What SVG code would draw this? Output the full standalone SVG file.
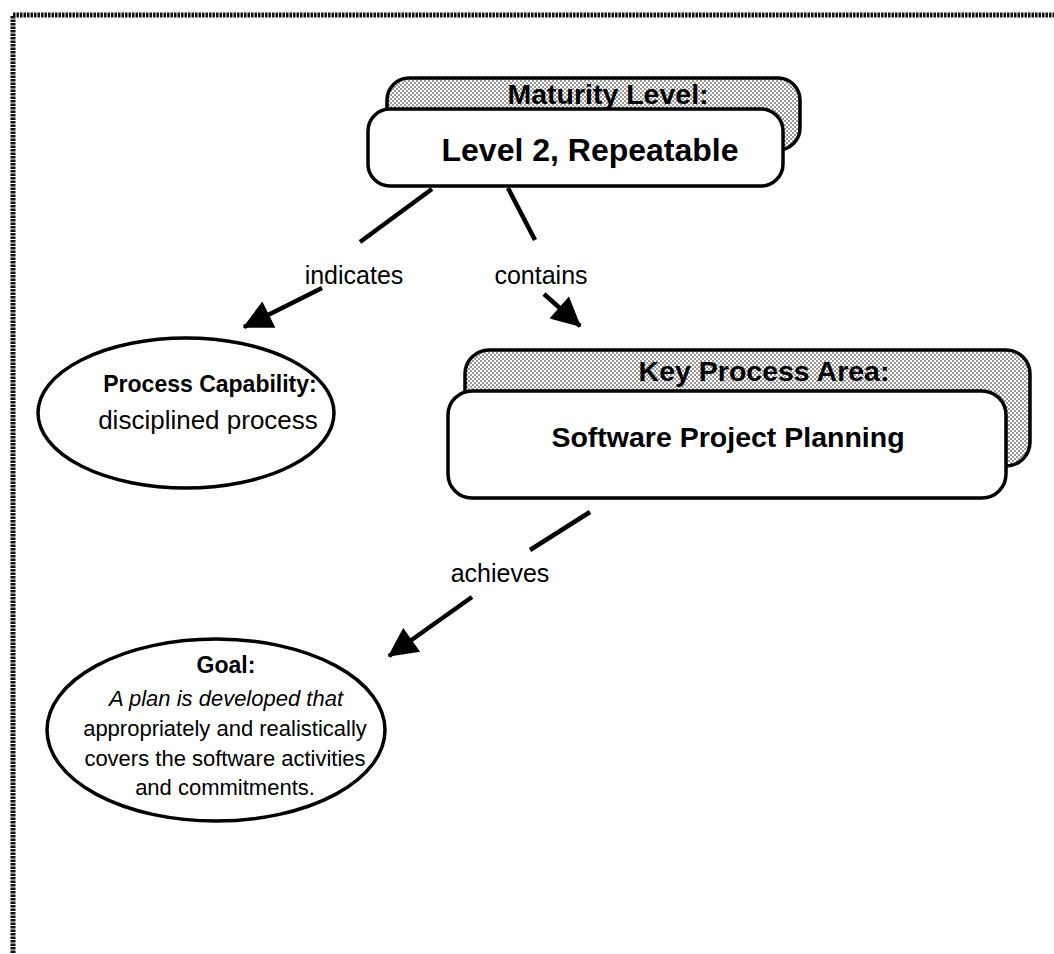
<svg xmlns="http://www.w3.org/2000/svg" width="1054" height="954" viewBox="0 0 1054 954">
<style>
.box{fill:#fff;stroke:#000;stroke-width:3.5}
.shade{fill:url(#dots);stroke:#000;stroke-width:3.5}
.ell{fill:#fff;stroke:#000;stroke-width:3.5}
.hd{font-family:"Liberation Sans",Arial,sans-serif;font-weight:bold;font-size:28.5px;text-anchor:middle;fill:#000}
.big{font-size:32px}
.sub{font-family:"Liberation Sans",Arial,sans-serif;font-weight:bold;font-size:23px;text-anchor:middle;fill:#000}
.txt{font-family:"Liberation Sans",Arial,sans-serif;font-size:22px;text-anchor:middle;fill:#000}
.lbl{font-family:"Liberation Sans",Arial,sans-serif;font-size:25px;text-anchor:middle;fill:#000}
.body{font-size:26px}
.ln{stroke:#000;stroke-width:4.5;fill:none}
</style>
<defs>
<pattern id="dots" patternUnits="userSpaceOnUse" width="4" height="4">
<rect width="4" height="4" fill="#fff"/>
<rect x="0" y="0" width="2" height="2" fill="#999"/>
<rect x="2" y="2" width="2" height="2" fill="#999"/>
</pattern>
<marker id="ah" viewBox="0 0 10 10" refX="9.5" refY="5" markerWidth="8" markerHeight="6.5" markerUnits="strokeWidth" orient="auto">
<path d="M0,0 L10,5 L0,10 z" fill="#000"/>
</marker>
</defs>
<rect x="13" y="15" width="1100" height="1000" fill="#fff" stroke="#111" stroke-width="5" stroke-dasharray="2.5 1"/>

<g id="connectors">
<line class="ln" x1="432" y1="189" x2="360" y2="242"/>
<line class="ln" x1="322" y1="288" x2="244" y2="327" marker-end="url(#ah)"/>
<text class="lbl" x="354" y="284">indicates</text>
<line class="ln" x1="508" y1="188" x2="535" y2="240"/>
<line class="ln" x1="544" y1="294" x2="580" y2="326" marker-end="url(#ah)"/>
<text class="lbl" x="541" y="284">contains</text>
<line class="ln" x1="590" y1="512" x2="530" y2="550"/>
<line class="ln" x1="472" y1="597" x2="389" y2="656" marker-end="url(#ah)"/>
<text class="lbl" x="500" y="582">achieves</text>
</g>

<g id="maturity-level">
<rect class="shade" x="387" y="78" width="413" height="72" rx="22"/>
<text class="hd" x="608" y="104">Maturity Level:</text>
<rect class="box" x="368" y="109" width="415" height="77" rx="22"/>
<text class="hd big" x="590" y="161">Level 2, Repeatable</text>
</g>

<g id="process-capability">
<ellipse class="ell" cx="186" cy="413" rx="148" ry="75"/>
<text class="sub" x="210" y="392">Process Capability:</text>
<text class="lbl body" x="208" y="429">disciplined process</text>
</g>

<g id="key-process-area">
<rect class="shade" x="465" y="350" width="565" height="116" rx="24"/>
<text class="hd" x="764" y="381">Key Process Area:</text>
<rect class="box" x="448" y="391" width="558" height="107" rx="24"/>
<text class="hd" x="728" y="447">Software Project Planning</text>
</g>

<g id="goal">
<ellipse class="ell" cx="216" cy="730" rx="169" ry="91"/>
<text class="sub" x="226" y="673">Goal:</text>
<text class="txt" x="226" y="706" font-style="italic">A plan is developed that</text>
<text class="txt" x="225" y="736">appropriately and realistically</text>
<text class="txt" x="225" y="766">covers the software activities</text>
<text class="txt" x="225" y="795">and commitments.</text>
</g>
</svg>
